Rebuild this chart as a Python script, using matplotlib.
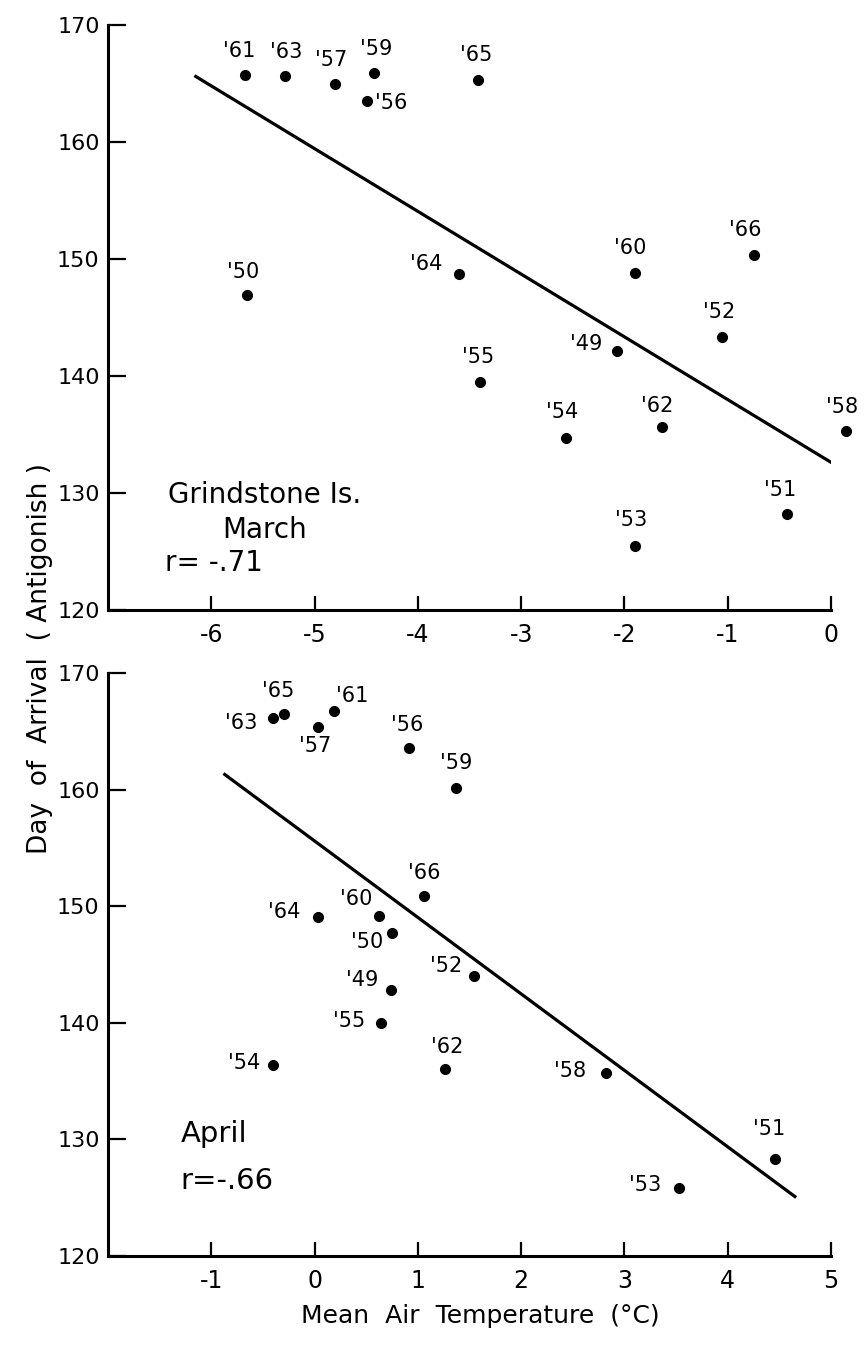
import matplotlib
matplotlib.use("Agg")
import matplotlib.pyplot as plt

plt.rcParams['font.family'] = ['DejaVu Sans']
plt.rcParams['axes.unicode_minus'] = False

# March panel (Grindstone Is.)
mar_years = ['61', '63', '57', '59', '56', '65', '50', '64', '60',
             '66', '52', '49', '55', '54', '62', '58', '51', '53']
mar_temp = [-5.67, -5.29, -4.80, -4.42, -4.49, -3.42, -5.65, -3.60, -1.90,
            -0.75, -1.06, -2.07, -3.40, -2.57, -1.64, 0.15, -0.43, -1.90]
mar_day = [165.7, 165.6, 165.0, 165.9, 163.5, 165.3, 146.9, 148.7, 148.8,
           150.3, 143.3, 142.1, 139.5, 134.7, 135.6, 135.3, 128.2, 125.5]
mar_fit_x = [-6.15, 0.06]
mar_fit_y = [165.6, 132.3]
mar_xticks = [-6, -5, -4, -3, -2, -1, 0]

# April panel
apr_years = ['63', '65', '61', '57', '56', '59', '66', '60', '64',
             '50', '52', '49', '55', '54', '62', '58', '53', '51']
apr_temp = [-0.40, -0.30, 0.19, 0.03, 0.91, 1.37, 1.06, 0.62, 0.03,
            0.75, 1.54, 0.74, 0.64, -0.40, 1.26, 2.82, 3.53, 4.46]
apr_day = [166.1, 166.5, 166.7, 165.4, 163.6, 160.1, 150.9, 149.2, 149.1,
           147.7, 144.0, 142.8, 140.0, 136.4, 136.0, 135.7, 125.8, 128.3]
apr_fit_x = [-0.87, 4.65]
apr_fit_y = [161.3, 125.1]
apr_xticks = [-1, 0, 1, 2, 3, 4, 5]

day_ticks = [120, 130, 140, 150, 160, 170]

# label offsets in pixels (dx right, dy down) from each point
mar_off = [(-6, -24), (2, -24), (-4, -23), (2, -24), (24, 2), (-2, -25),
           (-4, -23), (-33, -10), (-5, -25), (-8, -25), (-2, -25), (-31, -7),
           (-2, -25), (-3, -26), (-4, -21), (-4, -24), (-6, -24), (-4, -26)]
apr_off = [(-32, 5), (-5, -23), (18, -15), (-3, 19), (-1, -23), (0, -25),
           (0, -23), (-22, -17), (-33, -5), (-25, 9), (-28, -10), (-29, -10),
           (-32, -2), (-29, -2), (2, -22), (-36, -2), (-34, -3), (-6, -30)]

W, H = 865, 1353
fig = plt.figure(figsize=(W / 100, H / 100), dpi=100)
ax1 = fig.add_axes([108 / W, 1 - 610 / H, 723 / W, 585 / H])
ax2 = fig.add_axes([108 / W, 1 - 1256 / H, 723 / W, 583 / H])


def style(ax, xticks, xlim):
    ax.spines['top'].set_visible(False)
    ax.spines['right'].set_visible(False)
    ax.spines['left'].set_linewidth(2.2)
    ax.spines['bottom'].set_linewidth(2.2)
    ax.set_xlim(*xlim)
    ax.set_ylim(120, 170)
    ax.set_xticks(xticks)
    ax.set_yticks(day_ticks)
    ax.tick_params(axis='y', direction='in', length=13, width=1.6,
                   labelsize=16, pad=6)
    ax.tick_params(axis='x', direction='in', length=10, width=1.6,
                   labelsize=17, pad=9)


def draw(ax, years, temp, day, offs, fx, fy):
    ax.plot(fx, fy, color='black', lw=2.3)
    ax.plot(temp, day, 'o', color='black', ms=7, clip_on=False, zorder=3)
    for yr, x, y, (dx, dy) in zip(years, temp, day, offs):
        ax.annotate("'" + yr, (x, y), xytext=(dx, -dy),
                    textcoords='offset pixels', ha='center', va='center',
                    fontsize=15, annotation_clip=False)


style(ax1, mar_xticks, (-7, 0))
style(ax2, apr_xticks, (-2, 5))
draw(ax1, mar_years, mar_temp, mar_day, mar_off, mar_fit_x, mar_fit_y)
draw(ax2, apr_years, apr_temp, apr_day, apr_off, apr_fit_x, apr_fit_y)

ax1.text(-6.42, 129.8, "Grindstone Is.", fontsize=20, va='center')
ax1.text(-5.48, 126.8, "March", fontsize=20, va='center', ha='center')
ax1.text(-6.45, 124.0, "r= -.71", fontsize=20, va='center')

ax2.text(-1.30, 130.5, "April", fontsize=21, va='center')
ax2.text(-1.30, 126.4, "r=-.66", fontsize=21, va='center')

fig.text(40 / W, 1 - 658 / H, "Day  of  Arrival  ( Antigonish )",
         rotation=90, fontsize=19, ha='center', va='center')
fig.text(480 / W, 1 - 1316 / H, "Mean  Air  Temperature  (°C)",
         fontsize=18, ha='center', va='center')

fig.savefig('out.png', dpi=100)
